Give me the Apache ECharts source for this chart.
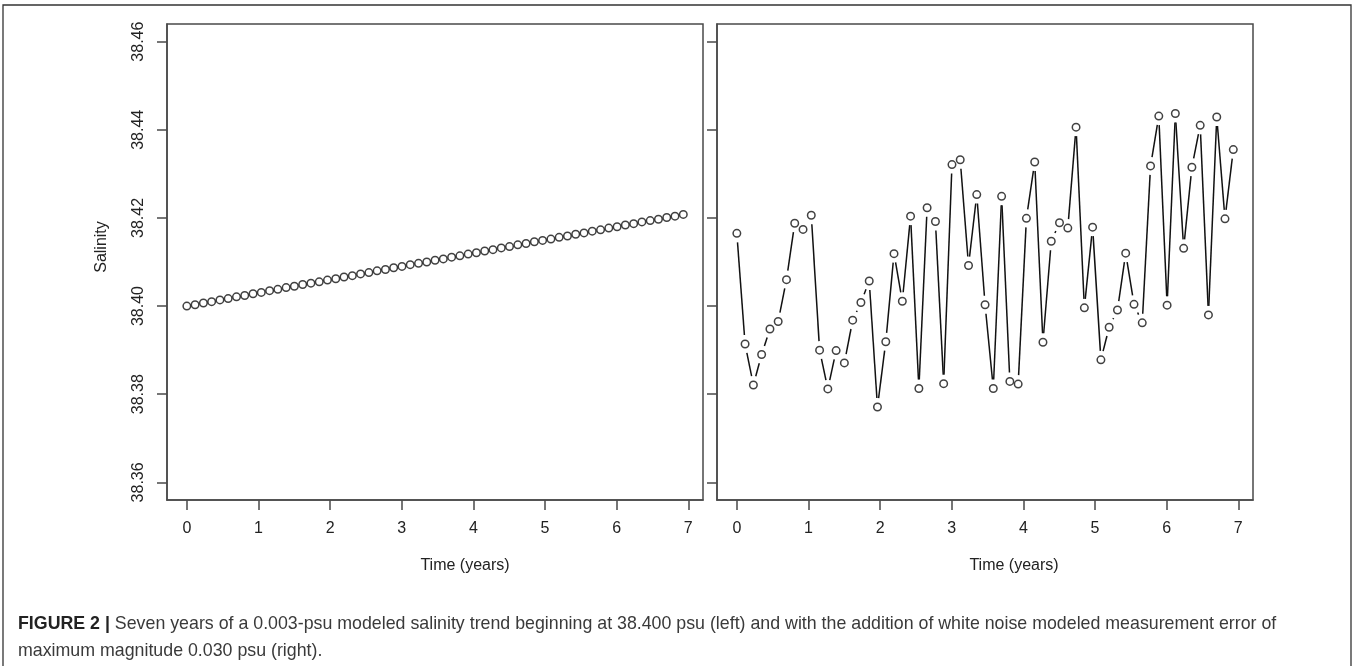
<!DOCTYPE html>
<html>
<head>
<meta charset="utf-8">
<script src="https://cdn.jsdelivr.net/npm/echarts@6/dist/echarts.min.js"></script>
<style>
html,body{margin:0;padding:0;background:#fff;}
#chart{width:1357px;height:666px;}
</style>
</head>
<body>
<div id="chart"></div>
<script>
// Time (years) of each sample
var timeYears = [0, 0.115, 0.231, 0.346, 0.462, 0.577, 0.693, 0.808, 0.924, 1.039,
  1.155, 1.270, 1.386, 1.501, 1.617, 1.732, 1.848, 1.963, 2.079, 2.194,
  2.310, 2.425, 2.541, 2.656, 2.772, 2.887, 3.003, 3.118, 3.234, 3.349,
  3.465, 3.580, 3.696, 3.811, 3.927, 4.042, 4.158, 4.273, 4.389, 4.504,
  4.620, 4.735, 4.851, 4.966, 5.082, 5.197, 5.313, 5.428, 5.544, 5.659,
  5.775, 5.890, 6.006, 6.121, 6.237, 6.352, 6.468, 6.583, 6.699, 6.814, 6.930];

// Left panel: modeled salinity trend
var trendSalinity = [38.4000, 38.4003, 38.4007, 38.4010, 38.4014, 38.4017, 38.4021, 38.4024, 38.4028, 38.4031,
  38.4035, 38.4038, 38.4042, 38.4045, 38.4049, 38.4052, 38.4055, 38.4059, 38.4062, 38.4066,
  38.4069, 38.4073, 38.4076, 38.4080, 38.4083, 38.4087, 38.4090, 38.4094, 38.4097, 38.4100,
  38.4104, 38.4107, 38.4111, 38.4114, 38.4118, 38.4121, 38.4125, 38.4128, 38.4132, 38.4135,
  38.4139, 38.4142, 38.4146, 38.4149, 38.4152, 38.4156, 38.4159, 38.4163, 38.4166, 38.4170,
  38.4173, 38.4177, 38.4180, 38.4184, 38.4187, 38.4191, 38.4194, 38.4197, 38.4201, 38.4204, 38.4208];

// Right panel: trend plus white-noise measurement error
var noisySalinity = [38.4165, 38.3914, 38.3821, 38.3890, 38.3948, 38.3965, 38.4060, 38.4188, 38.4174, 38.4206,
  38.3900, 38.3812, 38.3899, 38.3871, 38.3968, 38.4008, 38.4057, 38.3771, 38.3919, 38.4119,
  38.4011, 38.4204, 38.3813, 38.4223, 38.4192, 38.3824, 38.4321, 38.4332, 38.4092, 38.4253,
  38.4003, 38.3813, 38.4249, 38.3829, 38.3823, 38.4199, 38.4327, 38.3918, 38.4147, 38.4189,
  38.4177, 38.4406, 38.3996, 38.4179, 38.3878, 38.3952, 38.3991, 38.4120, 38.4004, 38.3962,
  38.4318, 38.4431, 38.4002, 38.4437, 38.4131, 38.4315, 38.4410, 38.3980, 38.4429, 38.4198, 38.4355];

var xTickValues = [0, 1, 2, 3, 4, 5, 6, 7];
var yTickValues = [38.36, 38.38, 38.40, 38.42, 38.44, 38.46];

var xLabelText = 'Time (years)';
var yLabelText = 'Salinity';

var FONT = '"Liberation Sans", Arial, Helvetica, sans-serif';
var AX = '#4a4a4a';

function pts(ys) {
  var out = [];
  for (var i = 0; i < timeYears.length; i++) out.push([timeYears[i], ys[i]]);
  return out;
}
function segs(ys) {
  var out = [];
  for (var i = 1; i < timeYears.length; i++) out.push([timeYears[i - 1], ys[i - 1], timeYears[i], ys[i]]);
  return out;
}

function xAxisCfg(idx) {
  return {
    type: 'value', gridIndex: idx, min: -0.277, max: 7.205,
    splitLine: {show: false},
    axisLine: {show: true, onZero: false, lineStyle: {color: AX, width: 1.5}},
    axisTick: {show: true, inside: false, length: 10, customValues: xTickValues, lineStyle: {color: AX, width: 1.5}},
    axisLabel: {show: true, customValues: xTickValues, margin: 21, color: '#222', fontSize: 16, fontFamily: FONT,
      formatter: function (v) { return String(Math.round(v)); }}
  };
}
function yAxisCfg(idx, showLabels) {
  return {
    type: 'value', gridIndex: idx, min: 38.356, max: 38.464,
    splitLine: {show: false},
    axisLine: {show: true, onZero: false, lineStyle: {color: AX, width: 1.5}},
    axisTick: {show: true, inside: false, length: 10, customValues: yTickValues, lineStyle: {color: AX, width: 1.5}},
    axisLabel: {show: showLabels, customValues: yTickValues, rotate: 90, margin: 20, color: '#222', fontSize: 16, fontFamily: FONT,
      formatter: function (v) { return v.toFixed(2); }}
  };
}

var GAP = 9;
function renderSeg(params, api) {
  var p0 = api.coord([api.value(0), api.value(1)]);
  var p1 = api.coord([api.value(2), api.value(3)]);
  var dx = p1[0] - p0[0], dy = p1[1] - p0[1];
  var d = Math.sqrt(dx * dx + dy * dy);
  if (d <= 2 * GAP) return null;
  var ux = dx / d, uy = dy / d;
  return {
    type: 'line',
    shape: {x1: p0[0] + ux * GAP, y1: p0[1] + uy * GAP, x2: p1[0] - ux * GAP, y2: p1[1] - uy * GAP},
    style: {stroke: '#111', lineWidth: 1.5}
  };
}

var circleStyle = {color: '#fff', borderColor: '#111', borderWidth: 1.5};

var chart = echarts.init(document.getElementById('chart'), null, {renderer: 'canvas'});
chart.setOption({
  backgroundColor: '#fff',
  animation: false,
  grid: [
    {left: 167, top: 24, right: 654, bottom: 166, show: true, borderColor: AX, borderWidth: 1.5, backgroundColor: 'transparent'},
    {left: 717, top: 24, right: 104, bottom: 166, show: true, borderColor: AX, borderWidth: 1.5, backgroundColor: 'transparent'}
  ],
  xAxis: [xAxisCfg(0), xAxisCfg(1)],
  yAxis: [yAxisCfg(0, true), yAxisCfg(1, false)],
  series: [
    {type: 'scatter', xAxisIndex: 0, yAxisIndex: 0, data: pts(trendSalinity), symbol: 'circle', symbolSize: 7.5, itemStyle: circleStyle, z: 3},
    {type: 'custom', xAxisIndex: 1, yAxisIndex: 1, data: segs(noisySalinity), renderItem: renderSeg,
      encode: {x: [0, 2], y: [1, 3]}, z: 2, silent: true},
    {type: 'scatter', xAxisIndex: 1, yAxisIndex: 1, data: pts(noisySalinity), symbol: 'circle', symbolSize: 7.5, itemStyle: circleStyle, z: 3}
  ],
  graphic: [
    {type: 'rect', shape: {x: 3, y: 5, width: 1348, height: 700}, style: {fill: 'none', stroke: '#333', lineWidth: 1.3}, silent: true},
    {type: 'text', x: 102, y: 247, rotation: Math.PI / 2,
      style: {text: yLabelText, font: '16px ' + FONT, fill: '#222', textAlign: 'center', textVerticalAlign: 'middle'}},
    {type: 'text', x: 465, y: 566,
      style: {text: xLabelText, font: '16px ' + FONT, fill: '#222', textAlign: 'center', textVerticalAlign: 'middle'}},
    {type: 'text', x: 1014, y: 566,
      style: {text: xLabelText, font: '16px ' + FONT, fill: '#222', textAlign: 'center', textVerticalAlign: 'middle'}},
    {type: 'text', x: 18, y: 624,
      style: {
        text: '{b|FIGURE 2 |} Seven years of a 0.003-psu modeled salinity trend beginning at 38.400 psu (left) and with the addition of white noise modeled measurement error of',
        fill: '#3a3a3a', font: '17.8px ' + FONT, textVerticalAlign: 'middle',
        rich: {b: {fontWeight: 'bold', fontSize: 17.8, fontFamily: FONT, fill: '#222'}}
      }},
    {type: 'text', x: 18, y: 651,
      style: {text: 'maximum magnitude 0.030 psu (right).', fill: '#3a3a3a', font: '17.8px ' + FONT, textVerticalAlign: 'middle'}}
  ]
});
</script>
</body>
</html>
